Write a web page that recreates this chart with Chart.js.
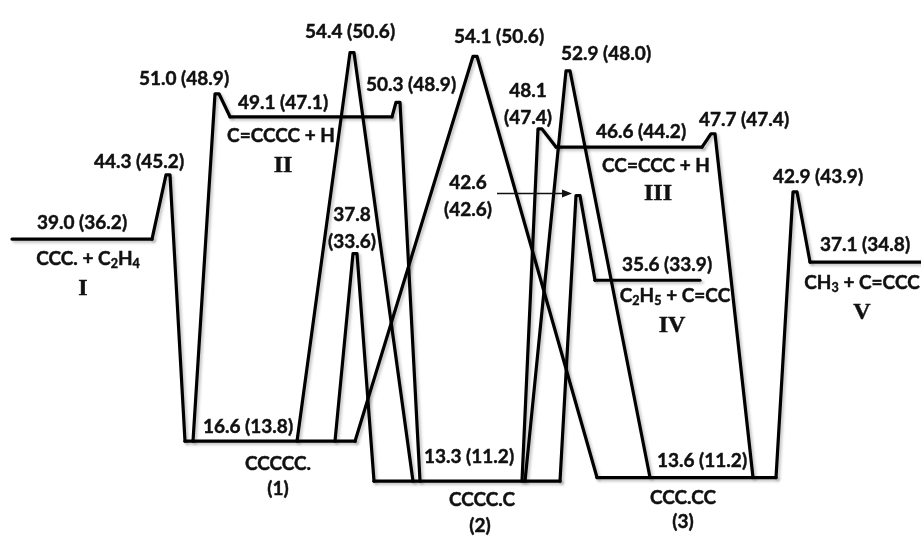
<!DOCTYPE html>
<html>
<head>
<meta charset="utf-8">
<script src="https://cdn.jsdelivr.net/npm/chart.js@4/dist/chart.umd.min.js"></script>
<style>
  html, body { margin: 0; padding: 0; background: #fff; }
  #wrap { width: 921px; height: 536px; }
</style>
</head>
<body>
<div id="wrap"><canvas id="pes" width="921" height="536"></canvas></div>
<script>
// Stationary points on the C5H11 / C5H10 + H potential energy surface.
// Energies in kcal/mol; the second list holds the values shown in parentheses.
const speciesNames = ['CCC. + C_2H_4', 'C=CCCC + H', 'CCCCC.', 'CCCC.C',
                      'CC=CCC + H', 'C_2H_5 + C=CC', 'CCC.CC', 'CH_3 + C=CCC'];
const speciesTags  = ['I', 'II', '(1)', '(2)', 'III', 'IV', '(3)', 'V'];
const speciesE     = [39.0, 49.1, 16.6, 13.3, 46.6, 35.6, 13.6, 37.1];
const speciesE2    = [36.2, 47.1, 13.8, 11.2, 44.2, 33.9, 11.2, 34.8];

// Transition states and the two species each one connects
const tsE    = [44.3, 51.0, 54.4, 50.3, 37.8, 54.1, 48.1, 52.9, 42.6, 47.7, 42.9];
const tsE2   = [45.2, 48.9, 50.6, 48.9, 33.6, 50.6, 47.4, 48.0, 42.6, 47.4, 43.9];
const tsFrom = [0, 2, 2, 1, 2, 2, 3, 3, 3, 4, 6];
const tsTo   = [2, 1, 3, 3, 3, 6, 4, 6, 5, 6, 7];

// ---- layout along the reaction coordinate ----
const speciesSpan = [[12, 152], [230, 392], [185, 355], [374, 560],
                     [556, 702], [595, 700], [597, 776], [810, 921]];
const tsX    = [168, 217, 352, 398, 355, 475, 540, 568, 578, 713, 795];
const tsLegX = [[152, 185], [193, 230], [297, 413], [392, 420], [335, 374], [355, 597],
                [522, 556], [525, 650], [560, 595], [702, 753], [776, 810]];

// label anchors: [x centre, y offset from the level in px]
const speciesValuePos = [[82, -16], [283, -14], [248, -14], [469, -24],
                         [641, -15], [667, -15], [702, -17], [865, -17]];
const speciesNamePos  = [[88, 20], [281, 19], [278, 23], [482, 19],
                         [656, 19], [675, 16], [683, 20], [862, 21]];
const speciesTagPos   = [[83, 50], [283, 49], [278, 48], [480, 45],
                         [658, 47], [672, 46], [683, 44], [862, 51]];
// TS labels: [x centre, y offset of first line, stacked (two lines)?]
const tsLabelPos = [[139, -13, 0], [184, -15, 0], [350, -21, 0], [411, -17, 0],
                    [352, -39, 1], [499, -19, 0], [528, -38, 1], [606, -17, 0],
                    [468, -13, 1], [744, -14, 0], [818, -15, 0]];

// ---- styling ----
const INK = '#111';
const LINE_W = 3.2;
const APEX_HALF = 2;            // half width of the rounded barrier top
const VALUE_FONT = ['bold', 19, 'Lato, "Open Sans", sans-serif'];
const ROMAN_FONT = ['bold', 24, '"Liberation Serif", "DejaVu Serif", serif'];

// Energy axis with a compressed gap between the deep wells and the upper region
const BREAK_AT = 25;
const GAP = 5.7;
const fold   = v => (v > BREAK_AT ? v - GAP : v);
const unfold = t => (t > BREAK_AT - GAP ? t + GAP : t);

class BrokenLinearScale extends Chart.LinearScale {
  getPixelForValue(v) {
    if (v === null || v === undefined) return NaN;
    const a = fold(this.options.min), b = fold(this.options.max);
    return this.getPixelForDecimal((fold(v) - a) / (b - a));
  }
  getValueForPixel(p) {
    const a = fold(this.options.min), b = fold(this.options.max);
    return unfold(a + this.getDecimalForPixel(p) * (b - a));
  }
}
BrokenLinearScale.id = 'brokenLinear';
BrokenLinearScale.defaults = Chart.LinearScale.defaults;
Chart.register(BrokenLinearScale);

// ---- datasets ----
const lineStyle = {
  borderColor: '#000', borderWidth: LINE_W, pointRadius: 0, fill: false,
  borderJoinStyle: 'round', borderCapStyle: 'round', tension: 0
};
const datasets = [];
speciesE.forEach((e, i) => {
  datasets.push(Object.assign({
    label: speciesNames[i].replace(/_/g, ''),
    data: [{ x: speciesSpan[i][0], y: e }, { x: speciesSpan[i][1], y: e }]
  }, lineStyle));
});
tsE.forEach((e, i) => {
  datasets.push(Object.assign({
    label: 'TS ' + e.toFixed(1),
    data: [
      { x: tsLegX[i][0], y: speciesE[tsFrom[i]] },
      { x: tsX[i] - APEX_HALF, y: e },
      { x: tsX[i] + APEX_HALF, y: e },
      { x: tsLegX[i][1], y: speciesE[tsTo[i]] }
    ]
  }, lineStyle));
});

// ---- text helpers ----
const fontStr = (f, scale = 1) => `${f[0]} ${f[1] * scale}px ${f[2]}`;
function drawRich(ctx, text, cx, cy, f) {
  const parts = text.split(/(_\d)/).filter(s => s.length);
  const segs = parts.map(s => s[0] === '_' ? { t: s.slice(1), sub: true } : { t: s, sub: false });
  let total = 0;
  segs.forEach(s => {
    ctx.font = s.sub ? fontStr(f, 0.66) : fontStr(f);
    s.w = ctx.measureText(s.t).width;
    total += s.w;
  });
  let x = cx - total / 2;
  ctx.textAlign = 'left';
  segs.forEach(s => {
    ctx.font = s.sub ? fontStr(f, 0.66) : fontStr(f);
    const yy = cy + (s.sub ? f[1] * 0.26 : 0);
    ctx.fillText(s.t, x, yy);
    ctx.strokeText(s.t, x, yy);   // slight extra weight
    x += s.w;
  });
}
const fmt = v => v.toFixed(1);
const isRoman = t => /^[IVX]+$/.test(t);

const shadowPlugin = {
  id: 'lineShadow',
  beforeDatasetsDraw(chart) {
    const c = chart.ctx;
    c.save();
    c.shadowColor = 'rgba(0,0,0,0.25)';
    c.shadowBlur = 3;
    c.shadowOffsetX = 2;
    c.shadowOffsetY = 2;
  },
  afterDatasetsDraw(chart) { chart.ctx.restore(); }
};

const labelPlugin = {
  id: 'energyLabels',
  afterDatasetsDraw(chart) {
    const { ctx } = chart;
    const xs = chart.scales.x, ys = chart.scales.y;
    ctx.save();
    ctx.fillStyle = INK;
    ctx.strokeStyle = INK;
    ctx.lineWidth = 0.45;
    ctx.textBaseline = 'middle';
    speciesE.forEach((e, i) => {
      const py = ys.getPixelForValue(e);
      drawRich(ctx, `${fmt(e)} (${fmt(speciesE2[i])})`,
        xs.getPixelForValue(speciesValuePos[i][0]), py + speciesValuePos[i][1], VALUE_FONT);
      drawRich(ctx, speciesNames[i],
        xs.getPixelForValue(speciesNamePos[i][0]), py + speciesNamePos[i][1], VALUE_FONT);
      const tag = speciesTags[i];
      drawRich(ctx, tag, xs.getPixelForValue(speciesTagPos[i][0]), py + speciesTagPos[i][1],
        isRoman(tag) ? ROMAN_FONT : VALUE_FONT);
    });
    tsE.forEach((e, i) => {
      const py = ys.getPixelForValue(e);
      const [lx, dy, stacked] = tsLabelPos[i];
      const px = xs.getPixelForValue(lx);
      if (stacked) {
        drawRich(ctx, fmt(e), px, py + dy, VALUE_FONT);
        drawRich(ctx, `(${fmt(tsE2[i])})`, px, py + dy + 27, VALUE_FONT);
      } else {
        drawRich(ctx, `${fmt(e)} (${fmt(tsE2[i])})`, px, py + dy, VALUE_FONT);
      }
    });
    // pointer from the 42.6 label to its barrier
    const k = tsE.indexOf(42.6);
    const ay = ys.getPixelForValue(tsE[k]) - 2;
    const ax0 = xs.getPixelForValue(497), ax1 = xs.getPixelForValue(tsX[k] - 6);
    ctx.lineWidth = 1.3;
    ctx.beginPath();
    ctx.moveTo(ax0, ay);
    ctx.lineTo(ax1 - 8, ay);
    ctx.stroke();
    ctx.beginPath();
    ctx.moveTo(ax1, ay);
    ctx.lineTo(ax1 - 10, ay - 4);
    ctx.lineTo(ax1 - 10, ay + 4);
    ctx.closePath();
    ctx.fill();
    ctx.restore();
  }
};

new Chart(document.getElementById('pes'), {
  type: 'line',
  data: { datasets },
  options: {
    responsive: false,
    devicePixelRatio: 1,
    animation: false,
    layout: { padding: 0 },
    plugins: { legend: { display: false }, tooltip: { enabled: false }, title: { display: false } },
    scales: {
      x: { type: 'linear', min: 0, max: 921, display: false },
      y: { type: 'brokenLinear', min: 8.77, max: 58.75, display: false, bounds: 'data' }
    }
  },
  plugins: [shadowPlugin, labelPlugin]
});
</script>
</body>
</html>
